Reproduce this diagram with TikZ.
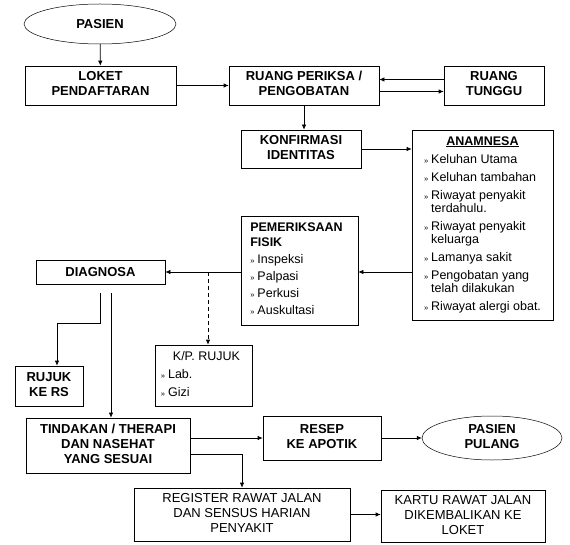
\documentclass[tikz,border=0pt]{standalone}
\usepackage{fontspec}
\setmainfont{Liberation Sans}
\usepackage{tikz}
\usetikzlibrary{arrows.meta, shapes.geometric}

\newcommand{\tanda}{{\fontsize{7.5}{8}\selectfont »}}

\begin{document}
\begin{tikzpicture}[x=1pt, y=-1pt,
	kotak/.style={draw, line width=0.7pt, inner sep=2pt, font=\fontsize{13}{15}\selectfont\bfseries},
	polos/.style={kotak, font=\fontsize{13}{15}\selectfont},
	daftar/.style={kotak, font=\fontsize{12.5}{13}\selectfont},
	lonjong/.style={draw, ellipse, line width=0.5pt, inner sep=0pt, font=\fontsize{13}{15}\selectfont\bfseries},
	panah/.style={-{Latex[length=5pt, width=4.5pt]}, line width=0.7pt},
	putus/.style={panah, dash pattern=on 4pt off 3pt}]
\useasboundingbox (0,0) rectangle (570,545);
% baris atas
	\node[name=pasien, lonjong, minimum width=152pt, minimum height=40pt] at (100,24) {PASIEN};
	\node[name=loket, kotak, minimum width=151pt, minimum height=39pt] at (100.5,85.5) {\begin{tabular}{c} LOKET\\ PENDAFTARAN \end{tabular}};
	\node[name=periksa, kotak, minimum width=150pt, minimum height=39pt] at (304,85.5) {\begin{tabular}{c} RUANG PERIKSA /\\ PENGOBATAN \end{tabular}};
	\node[name=tunggu, kotak, minimum width=100pt, minimum height=39pt] at (494,85.5) {\begin{tabular}{c} RUANG\\ TUNGGU \end{tabular}};
	\node[name=konfirmasi, kotak, minimum width=120pt, minimum height=38pt] at (301,149) {\begin{tabular}{c} KONFIRMASI\\ IDENTITAS \end{tabular}};
% anamnesa dan pemeriksaan
	\node[name=anamnesa, daftar, minimum width=141pt, minimum height=190pt] at (482.5,225) {\begin{tabular}{@{}l@{\hspace{3pt}}l@{}}
	\multicolumn{2}{c}{\textbf{\underline{ANAMNESA}}}\\[5pt]
	\tanda & Keluhan Utama\\[5pt]
	\tanda & Keluhan tambahan\\[5pt]
	\tanda & Riwayat penyakit\\
	 & terdahulu.\\[5pt]
	\tanda & Riwayat penyakit\\
	 & keluarga\\[5pt]
	\tanda & Lamanya sakit\\[5pt]
	\tanda & Pengobatan yang\\
	 & telah dilakukan\\[5pt]
	\tanda & Riwayat alergi obat.
	\end{tabular}};
	\node[name=fisik, daftar, minimum width=117pt, minimum height=109pt] at (299.5,270.5) {\begin{tabular}{@{}l@{\hspace{3pt}}l@{}}
	\multicolumn{2}{@{}l}{\textbf{PEMERIKSAAN}}\\[2pt]
	\multicolumn{2}{@{}l}{\textbf{FISIK}}\\[4pt]
	\tanda & Inspeksi\\[4pt]
	\tanda & Palpasi\\[4pt]
	\tanda & Perkusi\\[4pt]
	\tanda & Auskultasi
	\end{tabular}};
	\node[name=diagnosa, kotak, minimum width=129pt, minimum height=24pt] at (100.5,272) {DIAGNOSA};
	\node[name=rujuk, daftar, minimum width=97pt, minimum height=61pt] at (203.5,375.5) {\begin{tabular}{@{}l@{\hspace{3pt}}l@{}}
	\multicolumn{2}{@{\hspace{12pt}}l}{K/P. RUJUK}\\[5pt]
	\tanda & Lab.\\[5pt]
	\tanda & Gizi
	\end{tabular}};
	\node[name=rs, kotak, minimum width=68pt, minimum height=40pt] at (49,386) {\begin{tabular}{c} RUJUK\\ KE RS \end{tabular}};
% baris bawah
	\node[name=tindakan, kotak, minimum width=164pt, minimum height=55pt] at (108,445.5) {\begin{tabular}{c} TINDAKAN / THERAPI\\ DAN NASEHAT\\ YANG SESUAI \end{tabular}};
	\node[name=resep, kotak, minimum width=118pt, minimum height=44pt] at (322,438) {\begin{tabular}{c} RESEP\\ KE APOTIK \end{tabular}};
	\node[name=pulang, lonjong, minimum width=140pt, minimum height=44pt] at (492,438) {\begin{tabular}{c} PASIEN\\ PULANG \end{tabular}};
	\node[name=register, polos, minimum width=216pt, minimum height=53pt] at (242,514.5) {\begin{tabular}{c} REGISTER RAWAT JALAN\\ DAN SENSUS HARIAN\\ PENYAKIT \end{tabular}};
	\node[name=kartu, polos, minimum width=164pt, minimum height=52pt] at (463,516) {\begin{tabular}{c} KARTU RAWAT JALAN\\ DIKEMBALIKAN KE\\ LOKET \end{tabular}};
% panah
	\coordinate (cabang) at (208,272);
	\coordinate (kiri) at (100,293);
	\coordinate (kanan) at (111,293);
	\draw[panah] (pasien) -- (loket);
	\draw[panah] (loket) -- (periksa);
	\draw[panah] ([yshift=6pt]tunggu.west) -- ([yshift=6pt]periksa.east);
	\draw[panah] ([yshift=-6pt]periksa.east) -- ([yshift=-6pt]tunggu.west);
	\draw[panah] (periksa.south) -- (periksa.south |- konfirmasi.north);
	\draw[panah] (konfirmasi.east) -- (konfirmasi.east -| anamnesa.west);
	\draw[panah] (anamnesa.west |- diagnosa.east) -- (fisik.east |- diagnosa.east);
	\draw[panah] (fisik.west |- diagnosa.east) -- (diagnosa.east);
	\draw[putus] (cabang) -- (cabang |- rujuk.north);
	\draw[panah] (kiri) -- ++(0,30) -| ([xshift=8pt]rs.north);
	\draw[panah] (kanan) -- (kanan |- tindakan.north);
	\draw[panah] (resep.west -| tindakan.east) -- (resep.west);
	\draw[panah] (resep.east) -- (pulang.west);
	\draw[panah] ([yshift=-9pt]tindakan.east) -| (register.north);
	\draw[panah] (register.east) -- (register.east -| kartu.west);
\end{tikzpicture}
\end{document}
